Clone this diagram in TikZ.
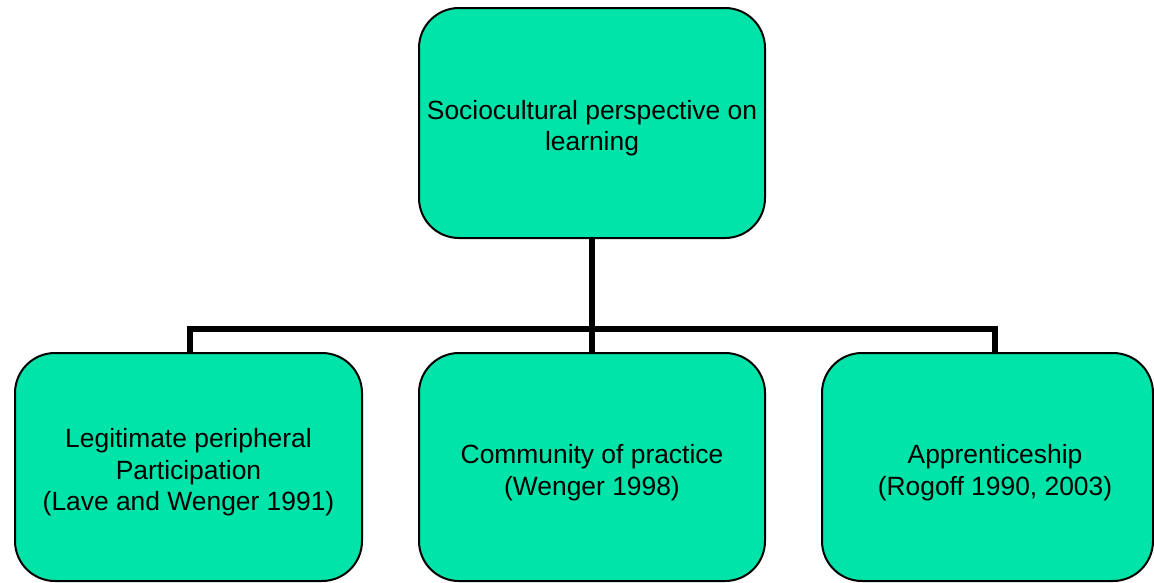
\documentclass[tikz,border=0pt]{standalone}
\usepackage{fontspec}
\setmainfont{Liberation Sans}
\definecolor{boxgreen}{RGB}{0,228,170}
\begin{document}
\begin{tikzpicture}[x=1pt,y=-1pt,
  gbox/.style={draw=black,line width=2pt,fill=boxgreen,rounded corners=40pt,inner sep=0pt},
  lbl/.style={align=center,font=\fontsize{26.4}{31.5}\selectfont,inner sep=0pt},
  conn/.style={line width=6pt}]
\useasboundingbox (0,0) rectangle (1154,582);
\node[gbox,minimum width=346pt,minimum height=230pt] (top) at (592,123) {};
\node[lbl] (toptext) at (592,128) {Sociocultural perspective on\\learning};
\node[gbox,minimum width=347pt,minimum height=228pt] (left) at (188.5,467) {};
\node[lbl] (lefttext) at (188.5,472.5) {Legitimate peripheral\\Participation\\(Lave and Wenger 1991)};
\node[gbox,minimum width=346pt,minimum height=228pt] (mid) at (592,467) {};
\node[lbl] (midtext) at (592,472.5) {Community of practice\\(Wenger 1998)};
\node[gbox,minimum width=331pt,minimum height=228pt] (right) at (987.5,467) {};
\node[lbl] (righttext) at (995,472.5) {Apprenticeship\\(Rogoff 1990, 2003)};
\coordinate (bus) at (592,329);
\draw[conn] (top.south) -- (bus);
\draw[conn] (left.north -| 190,0) -- (190,329) -- (995,329) -- (right.north -| 995,0);
\draw[conn] (bus) -- (mid.north);
\end{tikzpicture}
\end{document}
